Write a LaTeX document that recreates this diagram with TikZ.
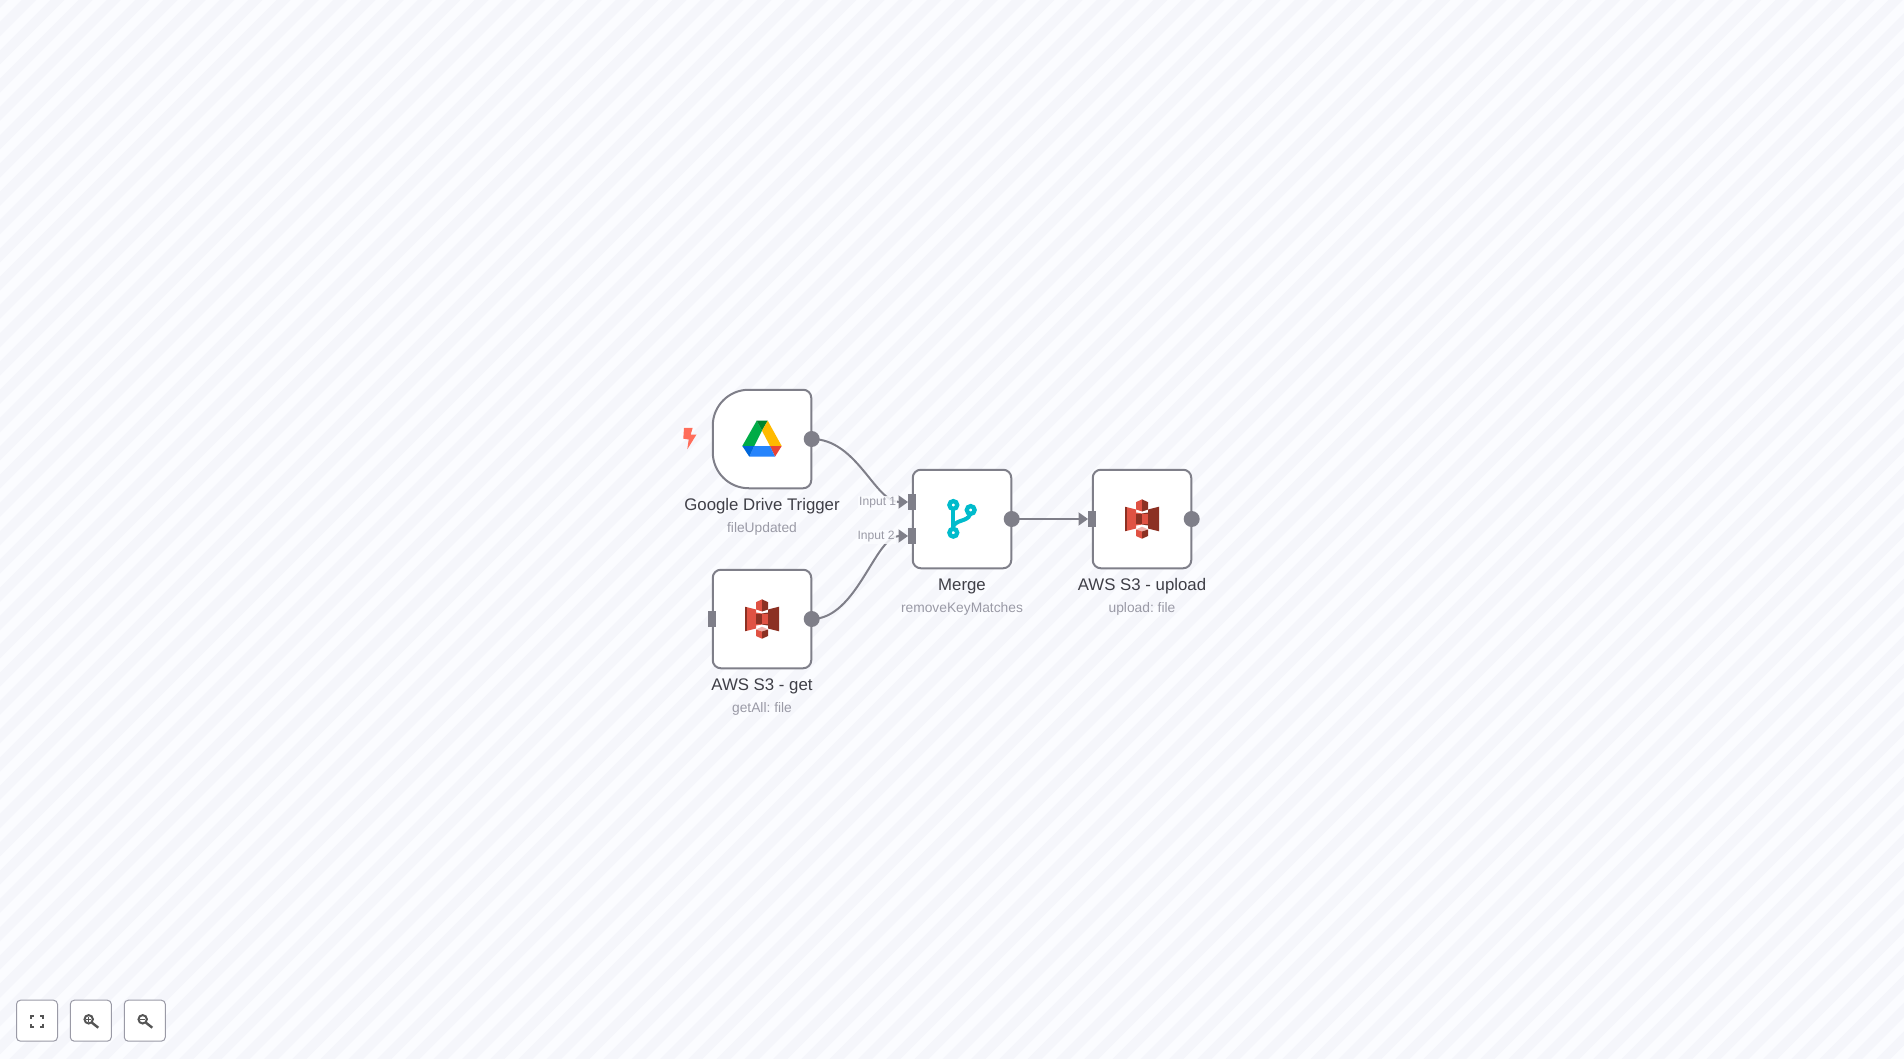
\documentclass[tikz,border=0pt]{standalone}
\usepackage{fontspec}
\setmainfont{Liberation Sans}
\usetikzlibrary{arrows.meta}
\frenchspacing

\definecolor{pagelight}{HTML}{FBFCFF}
\definecolor{pagedark}{HTML}{F5F6FB}
\definecolor{wiregray}{HTML}{7F7F89}
\definecolor{titlegray}{HTML}{3F3F47}
\definecolor{subgray}{HTML}{9A9AA6}
\definecolor{iconink}{HTML}{555555}
\definecolor{boltred}{HTML}{FF6D5A}
\definecolor{s3red}{HTML}{E05243}
\definecolor{s3dark}{HTML}{8C3123}
\definecolor{s3pale}{HTML}{F2B0A9}
\definecolor{mergeteal}{HTML}{00BBCC}
\definecolor{drivegreen}{HTML}{00AC47}
\definecolor{drivedeep}{HTML}{00832D}
\definecolor{driveyellow}{HTML}{FFBA00}
\definecolor{drivered}{HTML}{EA4335}
\definecolor{driveblue}{HTML}{2684FC}
\definecolor{drivenavy}{HTML}{0066DA}

\tikzset{
  nodebox/.style={draw=wiregray, line width=2pt, fill=white, rounded corners=8pt, minimum size=98.5pt, inner sep=0pt, outer sep=0pt},
  outdot/.style={circle, fill=wiregray, minimum size=16pt, inner sep=0pt, outer sep=0pt},
  inport/.style={rectangle, fill=wiregray, minimum width=8pt, minimum height=16pt, inner sep=0pt, outer sep=0pt},
  wire/.style={draw=wiregray, line width=2pt, -{Triangle[length=9.5pt,width=13pt]}},
  title/.style={text=titlegray, font=\fontsize{16.8pt}{20pt}\selectfont, inner sep=0pt},
  subtitle/.style={text=subgray, font=\fontsize{13.8pt}{17pt}\selectfont, inner sep=0pt},
  portlabel/.style={text=subgray, font=\fontsize{12.1pt}{14pt}\selectfont, fill=pagelight, fill opacity=0.85, text opacity=1, inner xsep=1pt, inner ysep=1.5pt},
  zoombtn/.style={draw=subgray, line width=1pt, fill=white, rounded corners=4pt, minimum size=41pt, inner sep=0pt},
  s3icon/.pic={
    % wings
    \fill[s3red] (-17,-12.3) -- (-6,-9.5) -- (-6,9.5) -- (-17,12.3) -- cycle;
    \fill[s3dark] (-17,-12.3) -- (-15,-12.3) -- (-15,12.3) -- (-17,12.3) -- cycle;
    \fill[s3dark] (17,-12.3) -- (6,-9.5) -- (6,9.5) -- (17,12.3) -- cycle;
    \fill[s3red] (-6,-6.5) -- (0,-5.5) -- (0,5.5) -- (-6,6.5) -- cycle;
    \fill[s3dark] (6,-6.5) -- (0,-5.5) -- (0,5.5) -- (6,6.5) -- cycle;
    % top block
    \fill[s3red] (-6,-16.8) -- (0,-19.7) -- (0,-7.5) -- (-6,-9.5) -- cycle;
    \fill[s3dark] (6,-16.8) -- (0,-19.7) -- (0,-7.5) -- (6,-9.5) -- cycle;
    % middle block
    \fill[s3dark] (-6,-5) rectangle (0,5);
    \fill[s3red] (0,-5) rectangle (6,5);
    % bottom block
    \fill[s3pale] (-6,10.5) -- (0,7.7) -- (6,10.5) -- (0,12.5) -- cycle;
    \fill[s3red] (-6,10.5) -- (0,12.5) -- (0,19.7) -- (-6,17) -- cycle;
    \fill[s3dark] (6,10.5) -- (0,12.5) -- (0,19.7) -- (6,17) -- cycle;
  },
  driveicon/.pic={
    \fill[drivegreen] (-5.3,-18.3) -- (0,-8.3) -- (-7.7,7) -- (-19.7,7) -- cycle;
    \fill[drivedeep] (-5.3,-18.3) -- (5.7,-18.3) -- (0,-8.3) -- cycle;
    \fill[driveyellow] (5.7,-18.3) -- (19.7,7) -- (8,7) -- (0,-8.3) -- cycle;
    \fill[drivered] (8,7) -- (19.7,7) -- (13,17.7) -- cycle;
    \fill[driveblue] (-7.7,7) -- (8,7) -- (13,17.7) -- (-12.7,17.7) -- cycle;
    \fill[drivenavy] (-19.7,7) -- (-7.7,7) -- (-12.7,17.7) -- cycle;
  },
  lensicon/.pic={
    \draw[draw=iconink, line width=2pt] (-2.1,-1.4) circle (4.2pt);
    \draw[draw=iconink, line width=2.4pt] (1,1.9) -- (7.5,7);
  }
}

\begin{document}
\begin{tikzpicture}[x=1pt, y=-1pt]
  \useasboundingbox (0,0) rectangle (1904,1059);

  % Page stripes
  \fill[pagelight] (0,0) rectangle (1904,1059);
  \begin{scope}
    \clip (0,0) rectangle (1904,1059);
    \foreach \c in {0,...,105} {
      \fill[pagedark] ({\c*28.284-6.3},0) -- ({\c*28.284+7.84},0) -- ({\c*28.284+7.84-1059},1059) -- ({\c*28.284-6.3-1059},1059) -- cycle;
    }
  \end{scope}

  % Workflow boxes
  \node[nodebox, draw=none, fill=none] (drive) at (762,439) {};
  \draw[draw=wiregray, fill=white, line width=2pt] (drive.north) -- ++(-13.25,0) arc[start angle=90, end angle=180, radius=36pt] -- ++(0,26.5) arc[start angle=180, end angle=270, radius=36pt] -- ++(54.5,0) arc[start angle=270, end angle=360, radius=8pt] -- ++(0,-82.5) arc[start angle=0, end angle=90, radius=8pt] -- cycle;
  \node[nodebox] (s3get) at (762,619) {};
  \node[nodebox] (merge) at (962,519) {};
  \node[nodebox] (s3upload) at (1142,519) {};

  % Ports
  \node[outdot] (driveOut) at (811.7,439) {};
  \node[outdot] (s3getOut) at (811.7,619) {};
  \node[outdot] (mergeOut) at (1011.7,519) {};
  \node[outdot] (s3uploadOut) at (1191.7,519) {};
  \node[inport] (s3getIn) at (712,619) {};
  \node[inport] (mergeInA) at (912,502) {};
  \node[inport] (mergeInB) at (912,536) {};
  \node[inport] (s3uploadIn) at (1092,519) {};

  % Connectors
  \draw[wire] (driveOut.center) .. controls (857,439) and (875,502) .. (mergeInA.west);
  \draw[wire] (s3getOut.center) .. controls (857,619) and (875,536) .. (mergeInB.west);
  \draw[wire] (mergeOut.center) -- (s3uploadIn.west);
  \node[portlabel] (inputA) at (877.7,502.7) {Input 1};
  \node[portlabel] (inputB) at (876,537) {Input 2};

  % Trigger bolt
  \fill[boltred] (684,427.8) -- (692.7,427.8) -- (690.7,434.5) -- (696.5,434.5) -- (687.3,449.3) -- (688.7,439.5) -- (683.3,438.7) -- cycle;

  % Icons
  \pic at (drive) {driveicon};
  \pic at (s3get) {s3icon};
  \pic at (s3upload) {s3icon};
  \draw[draw=mergeteal, line width=4pt] (953.3,505) -- (953.3,532.7);
  \draw[draw=mergeteal, line width=4pt] (970.7,510) .. controls (970.7,523) and (958,518) .. (953.3,526);
  \draw[draw=mergeteal, fill=white, line width=4.3pt] (953.3,505) circle (3.9pt);
  \draw[draw=mergeteal, fill=white, line width=4.3pt] (953.3,532.7) circle (3.9pt);
  \draw[draw=mergeteal, fill=white, line width=4.3pt] (970.7,510) circle (3.9pt);

  % Titles
  \node[title] (driveTitle) at (762,506.5) {Google Drive Trigger};
  \node[subtitle] (driveSub) at (762,529) {fileUpdated};
  \node[title] (s3getTitle) at (762,686.5) {AWS S3 - get};
  \node[subtitle] (s3getSub) at (762,709) {getAll: file};
  \node[title] (mergeTitle) at (962,586.5) {Merge};
  \node[subtitle] (mergeSub) at (962,609) {removeKeyMatches};
  \node[title] (s3uploadTitle) at (1142,586.5) {AWS S3 - upload};
  \node[subtitle] (s3uploadSub) at (1142,609) {upload: file};

  % Canvas buttons
  \node[zoombtn] (fitBtn) at (37,1020.7) {};
  \node[zoombtn] (zoomInBtn) at (90.8,1020.7) {};
  \node[zoombtn] (zoomOutBtn) at (144.8,1020.7) {};
  \draw[draw=iconink, line width=2pt] (31,1018.5) -- (31,1015.5) -- (34,1015.5);
  \draw[draw=iconink, line width=2pt] (40,1015.5) -- (43,1015.5) -- (43,1018.5);
  \draw[draw=iconink, line width=2pt] (43,1023.5) -- (43,1026.5) -- (40,1026.5);
  \draw[draw=iconink, line width=2pt] (34,1026.5) -- (31,1026.5) -- (31,1023.5);
  \pic at (zoomInBtn) {lensicon};
  \pic at (zoomOutBtn) {lensicon};
  \draw[draw=iconink, line width=1.2pt] (86.2,1019.3) -- (91.2,1019.3) (88.7,1016.8) -- (88.7,1021.8);
  \draw[draw=iconink, line width=1.2pt] (140.2,1019.3) -- (145.2,1019.3);
\end{tikzpicture}
\end{document}
